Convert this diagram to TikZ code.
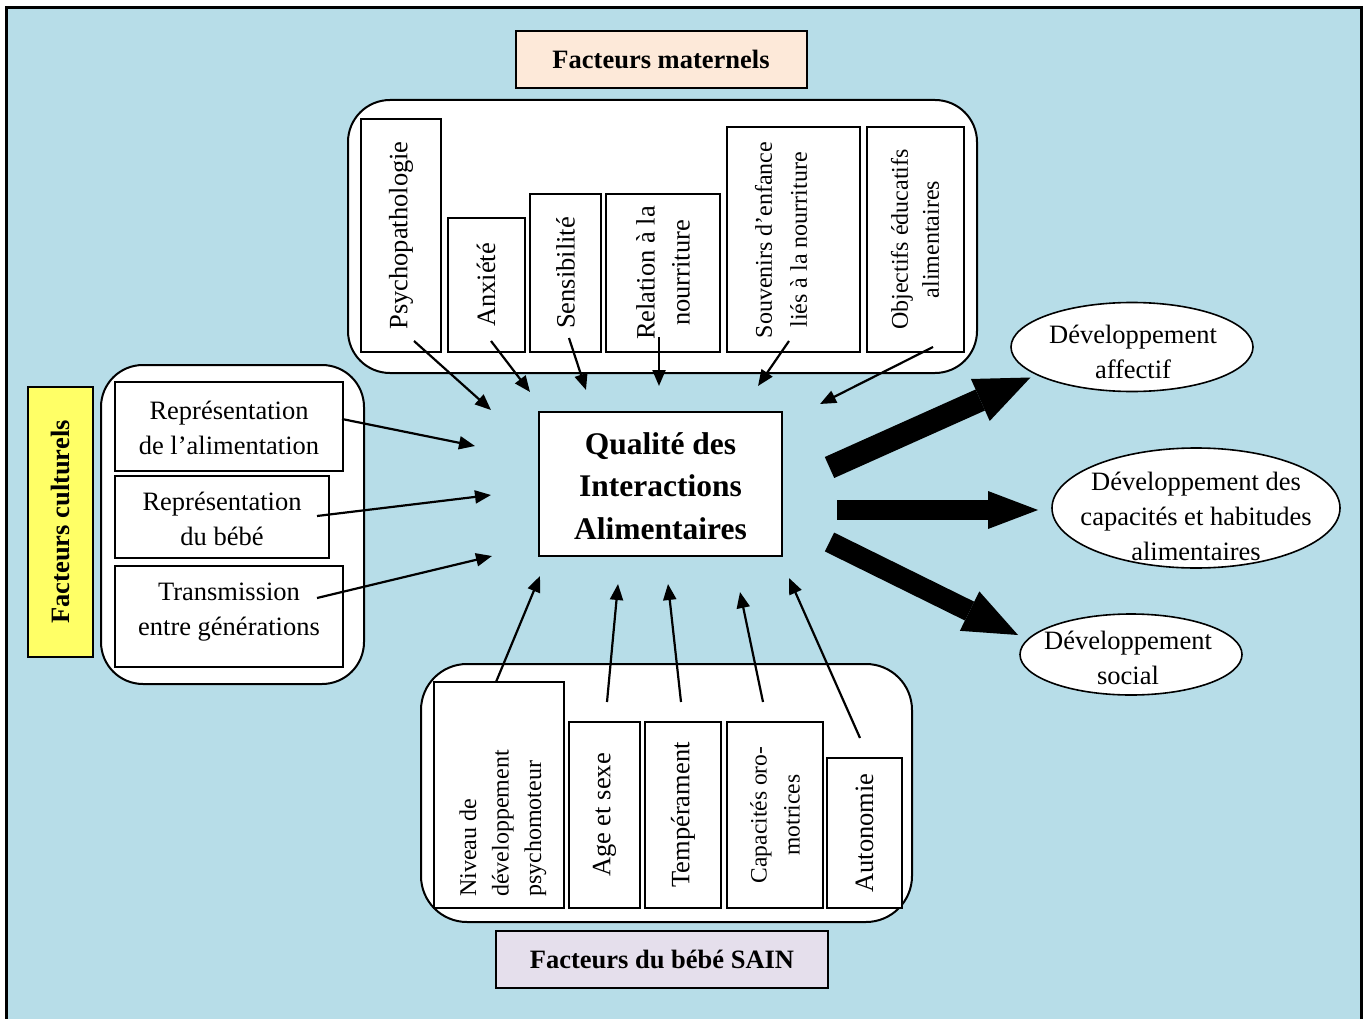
\documentclass[tikz,border=0pt]{standalone}
\usepackage{fontspec}
\setmainfont{Liberation Serif}
\usetikzlibrary{arrows.meta,shapes.geometric}
\definecolor{bgblue}{RGB}{183,221,232}
\definecolor{peach}{RGB}{253,233,217}
\definecolor{lav}{RGB}{229,223,236}
\definecolor{yel}{RGB}{255,255,102}
\begin{document}
\begin{tikzpicture}[x=1pt,y=-1pt,
  txt/.style={font=\fontsize{26.5}{35}\selectfont, inner sep=0pt, align=center},
  stxt/.style={font=\fontsize{24}{33}\selectfont, inner sep=0pt, align=center},
  btxt/.style={font=\fontsize{26.5}{35}\selectfont\bfseries, inner sep=0pt, align=center},
  ctxt/.style={font=\fontsize{31.5}{42.5}\selectfont\bfseries, inner sep=0pt, align=center},
  box/.style={draw, line width=2pt, fill=white, inner sep=0pt},
  elli/.style={ellipse, draw, line width=1.6pt, fill=white, inner sep=0pt},
  thinarrow/.style={line width=2.2pt, -{Triangle[length=16pt,width=13pt]}},
]
\useasboundingbox (0,0) rectangle (1368,1019);
\clip (0,0) rectangle (1368,1019);
\fill[white] (0,0) rectangle (1368,1019);
\draw[line width=3pt, fill=bgblue] (6,8) rectangle (1361,1040);

% ---- maternal factors
\node[box, fill=peach, minimum width=291pt, minimum height=57pt] (titmat) at (661,59.5) {};
\node[btxt] at (titmat.center) {Facteurs maternels};
\draw[line width=2pt, fill=white, rounded corners=42pt] (348,100) rectangle (977,373);
\node[box, minimum width=80pt, minimum height=233pt] (psy) at (401,235.5) {};
\node[txt, rotate=90] at (psy.center) {Psychopathologie};
\node[box, minimum width=77pt, minimum height=134pt] (anx) at (486,285) {};
\node[txt, rotate=90] at (anx.center) {Anxiété};
\node[box, minimum width=71pt, minimum height=158pt] (sens) at (565.5,273) {};
\node[txt, rotate=90] at (sens.center) {Sensibilité};
\node[box, minimum width=114pt, minimum height=158pt] (rel) at (663,273) {};
\node[txt, rotate=90] at (rel.center) {Relation à la\\nourriture};
\node[box, minimum width=133pt, minimum height=225pt] (souv) at (793,239.5) {};
\node[stxt, font=\fontsize{24}{35}\selectfont, rotate=90] at (781,240) {Souvenirs d’enfance\\liés à la nourriture};
\node[box, minimum width=97pt, minimum height=225pt] (obj) at (915,239.5) {};
\node[stxt, font=\fontsize{24}{31}\selectfont, rotate=90] at (obj.center) {Objectifs éducatifs\\alimentaires};

% ---- central
\node[box, minimum width=243pt, minimum height=144pt] (qia) at (660.5,484) {};
\node[ctxt] at (660.5,486) {Qualité des\\Interactions\\Alimentaires};

% ---- cultural factors
\node[box, fill=yel, minimum width=65pt, minimum height=270pt] (titcul) at (60,522) {};
\node[btxt, rotate=90] at (titcul.center) {Facteurs culturels};
\draw[line width=2pt, fill=white, rounded corners=42pt] (101,365) rectangle (364,684);
\node[box, minimum width=228pt, minimum height=89pt] (repal) at (229,426) {};
\node[txt] at (229,428) {Représentation\\de l’alimentation};
\node[box, minimum width=214pt, minimum height=82pt] (repbb) at (222,517) {};
\node[txt] at (222,519) {Représentation\\du bébé};
\node[box, minimum width=228pt, minimum height=101pt] (trans) at (229,616) {};
\node[txt] at (229,612) {Transmission\\entre générations};

% ---- baby factors
\draw[line width=2pt, fill=white, rounded corners=46pt] (421,664) rectangle (912,922);
\node[box, minimum width=130pt, minimum height=226pt] (niv) at (498.5,795) {};
\node[stxt, font=\fontsize{24}{32.5}\selectfont, rotate=90, anchor=west, align=left] at (503,897) {Niveau de\\développement\\psychomoteur};
\node[box, minimum width=71pt, minimum height=186pt] (age) at (604.5,815) {};
\node[txt, rotate=90] at (age.center) {Age et sexe};
\node[box, minimum width=76pt, minimum height=186pt] (temp) at (683,815) {};
\node[txt, rotate=90] at (temp.center) {Tempérament};
\node[box, minimum width=96pt, minimum height=186pt] (cap) at (775,815) {};
\node[stxt, font=\fontsize{23.5}{33}\selectfont, rotate=90] at (cap.center) {Capacités oro-\\motrices};
\node[box, minimum width=75pt, minimum height=150pt] (auto) at (864.5,833) {};
\node[txt, rotate=90] at (auto.center) {Autonomie};
\node[box, fill=lav, minimum width=332pt, minimum height=57pt] (titbb) at (662,959.5) {};
\node[btxt] at (titbb.center) {Facteurs du bébé SAIN};

% ---- outcomes
\node[elli, minimum width=242pt, minimum height=89pt] (e1) at (1132,347) {};
\node[txt] at (1133,352) {Développement\\affectif};
\node[elli, minimum width=288pt, minimum height=120pt] (e2) at (1196,508) {};
\node[txt] at (1196,516) {Développement des\\capacités et habitudes\\alimentaires};
\node[elli, minimum width=222pt, minimum height=81pt] (e3) at (1131,654.5) {};
\node[txt] at (1128,658) {Développement\\social};

% ---- thin arrows: maternal
\coordinate (m1a) at (414,341); \coordinate (m1b) at (491,410);
\coordinate (m2a) at (491,341); \coordinate (m2b) at (530,392);
\coordinate (m3a) at (569,338); \coordinate (m3b) at (586,390);
\coordinate (m4a) at (659,337); \coordinate (m4b) at (659,386);
\coordinate (m5a) at (789,341); \coordinate (m5b) at (758,386);
\coordinate (m6a) at (933,347); \coordinate (m6b) at (820,404);
\foreach \i in {1,...,6} \draw[thinarrow] (m\i a) -- (m\i b);
% cultural
\coordinate (c1a) at (342,419); \coordinate (c1b) at (475,446);
\coordinate (c2a) at (317,516); \coordinate (c2b) at (491,495);
\coordinate (c3a) at (317,598); \coordinate (c3b) at (492,556);
\foreach \i in {1,2,3} \draw[thinarrow] (c\i a) -- (c\i b);
% baby
\coordinate (b1a) at (496,682); \coordinate (b1b) at (540,576);
\coordinate (b2a) at (607,702); \coordinate (b2b) at (618,584);
\coordinate (b3a) at (681,702); \coordinate (b3b) at (668,584);
\coordinate (b4a) at (763,702); \coordinate (b4b) at (740,592);
\coordinate (b5a) at (860,738); \coordinate (b5b) at (789,578);
\foreach \i in {1,...,5} \draw[thinarrow] (b\i a) -- (b\i b);

% ---- big arrows
\coordinate (g1a) at (829.5,467.5); \coordinate (g1b) at (1030.5,377.5);
\coordinate (g2a) at (837,510); \coordinate (g2b) at (1038,510);
\coordinate (g3a) at (829.5,542); \coordinate (g3b) at (1018,635);
\draw[line width=23pt, -{Triangle[length=55pt,width=46pt,line width=0pt]}] (g1a) -- (g1b);
\draw[line width=19.5pt, -{Triangle[length=50pt,width=38pt,line width=0pt]}] (g2a) -- (g2b);
\draw[line width=21pt, -{Triangle[length=54pt,width=44pt,line width=0pt]}] (g3a) -- (g3b);
\end{tikzpicture}
\end{document}
